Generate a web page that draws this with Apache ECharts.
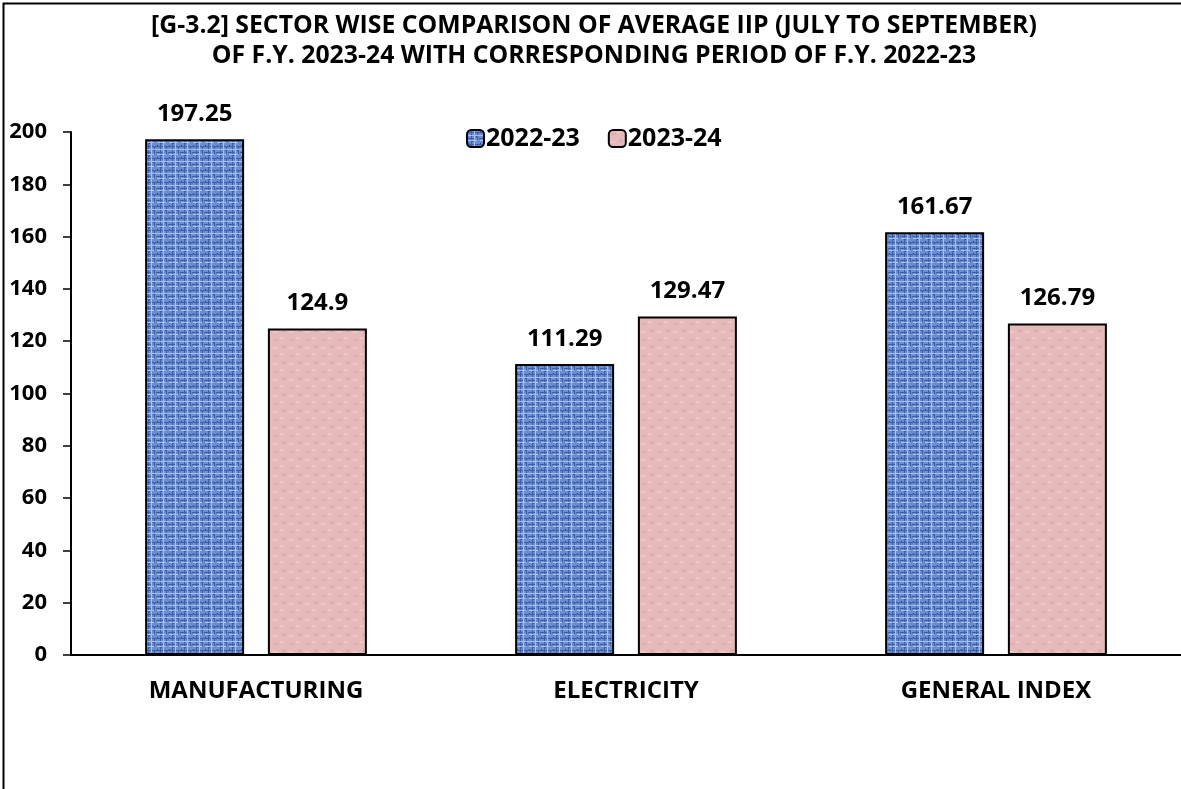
<!DOCTYPE html>
<html>
<head>
<meta charset="utf-8">
<script src="https://cdn.jsdelivr.net/npm/echarts@6/dist/echarts.min.js"></script>
<style>
  html, body { margin: 0; padding: 0; background: #fff; }
  #chart { width: 1181px; height: 789px; }
</style>
</head>
<body>
<div id="chart"></div>
<script>
// data
const categories = ['MANUFACTURING', 'ELECTRICITY', 'GENERAL INDEX'];
const fy2223 = [197.25, 111.29, 161.67];
const fy2324 = [124.9, 129.47, 126.79];
const seriesNames = ['2022-23', '2023-24'];

const FONT = '"Open Sans", "Noto Sans", sans-serif';

// woven blue texture (hand-drawn, fixed)
function bluePattern() {
  const c = document.createElement('canvas');
  c.width = 12; c.height = 12;
  const g = c.getContext('2d');
  g.fillStyle = '#6b8dcf';
  g.fillRect(0, 0, 12, 12);
  g.fillStyle = '#3d60a8';
  g.fillRect(0, 2, 12, 1);
  g.fillRect(0, 8, 7, 1);
  g.fillRect(4, 0, 1, 12);
  g.fillRect(10, 3, 1, 7);
  g.fillStyle = '#a6c1ef';
  g.fillRect(0, 5, 12, 1);
  g.fillRect(7, 0, 1, 12);
  g.fillRect(1, 10, 9, 1);
  g.fillStyle = '#2c4a8c';
  g.fillRect(1, 1, 1, 1);
  g.fillRect(9, 6, 1, 1);
  g.fillRect(5, 11, 1, 1);
  return c;
}
// soft pink marble texture (hand-drawn, fixed)
function pinkPattern() {
  const c = document.createElement('canvas');
  c.width = 16; c.height = 16;
  const g = c.getContext('2d');
  g.fillStyle = '#e6baba';
  g.fillRect(0, 0, 16, 16);
  g.fillStyle = '#ddaeb0';
  g.fillRect(2, 3, 5, 2);
  g.fillRect(10, 9, 4, 3);
  g.fillStyle = '#eec8c8';
  g.fillRect(8, 1, 4, 2);
  g.fillRect(1, 11, 5, 2);
  return c;
}

const labelStyle = { fontFamily: FONT, fontWeight: 'bold', fontSize: 24, color: '#000' };

const chart = echarts.init(document.getElementById('chart'));
chart.setOption({
  animation: false,
  backgroundColor: '#fff',
  title: {
    text: '[G-3.2] SECTOR WISE COMPARISON OF AVERAGE IIP (JULY TO SEPTEMBER)\nOF F.Y. 2023-24 WITH CORRESPONDING PERIOD OF F.Y. 2022-23',
    left: 589,
    textAlign: 'center',
    top: 6,
    textStyle: { fontFamily: FONT, fontWeight: 'bold', fontSize: 24.8, color: '#000', lineHeight: 30 }
  },
  legend: {
    data: seriesNames,
    left: 461,
    top: 121,
    itemWidth: 17,
    itemHeight: 17,
    itemGap: 28,
    textStyle: { fontFamily: FONT, fontWeight: 'bold', fontSize: 25, color: '#000', padding: [0, 0, 0, -3] }
  },
  grid: { left: 71, width: 1113, top: 132, bottom: 134 },
  xAxis: {
    type: 'category',
    data: categories,
    axisLine: { lineStyle: { color: '#000', width: 2 } },
    axisTick: { show: false },
    axisLabel: { fontFamily: FONT, fontWeight: 'bold', fontSize: 24, color: '#000', margin: 24 }
  },
  yAxis: {
    type: 'value',
    min: 0,
    max: 200,
    interval: 20,
    splitLine: { show: false },
    axisLine: { show: true, lineStyle: { color: '#000', width: 2 } },
    axisTick: { show: true, length: 8, lineStyle: { color: '#000', width: 1.5 } },
    axisLabel: { fontFamily: FONT, fontWeight: 'bold', fontSize: 22, color: '#000', margin: 24 }
  },
  series: [
    {
      name: seriesNames[0],
      type: 'bar',
      data: fy2223,
      barWidth: 99,
      barGap: '24%',
      itemStyle: { color: { image: bluePattern(), repeat: 'repeat' }, borderColor: '#000', borderWidth: 2 },
      label: Object.assign({ show: true, position: 'top', distance: 13 }, labelStyle)
    },
    {
      name: seriesNames[1],
      type: 'bar',
      data: fy2324,
      barWidth: 99,
      itemStyle: { color: { image: pinkPattern(), repeat: 'repeat' }, borderColor: '#000', borderWidth: 2 },
      label: Object.assign({ show: true, position: 'top', distance: 13 }, labelStyle)
    }
  ],
  graphic: [{
    type: 'rect',
    shape: { x: 3.5, y: 3.5, width: 1300, height: 1000 },
    style: { fill: 'none', stroke: '#000', lineWidth: 2 },
    silent: true
  }]
});
</script>
</body>
</html>
